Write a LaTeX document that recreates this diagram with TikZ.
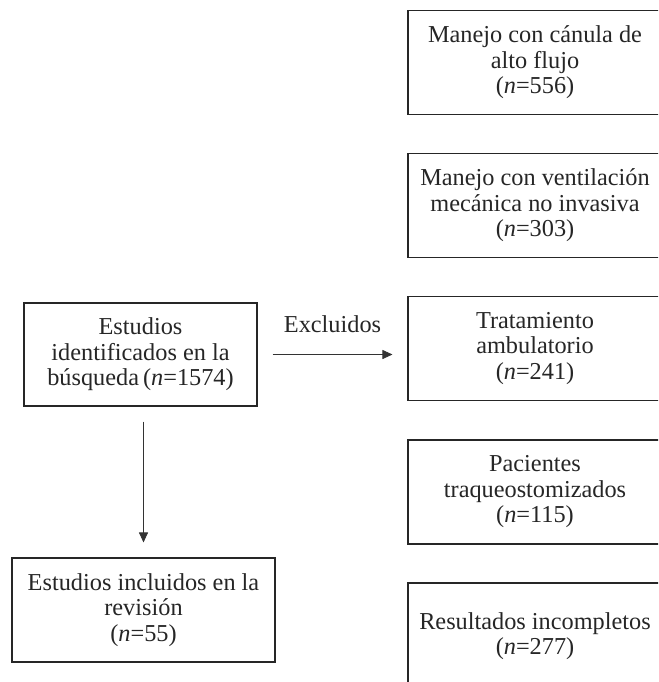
\documentclass[tikz,border=0pt]{standalone}
\usepackage{fontspec}
\setmainfont{Liberation Serif}
\usetikzlibrary{arrows.meta}
\begin{document}
\begin{tikzpicture}[x=1pt,y=-1pt,
  box/.style={draw=black!85, line width=1.1pt, align=center, inner sep=0pt,
    text=black!85, font=\fontsize{24.3}{25.5}\selectfont},
  rbox/.style={box, minimum width=254pt, minimum height=104pt},
  conn/.style={draw=black!80, line width=0.9pt, -{Triangle[length=10pt,width=9pt]}}]
\useasboundingbox (0,0) rectangle (658,682);
\clip (0,0) rectangle (658,682);
\fill[white] (0,0) rectangle (658,682);
\node[rbox] (r1) at (535,62.5) {Manejo con cánula de\\alto flujo\\(\textit{n}=556)};
\node[rbox] (r2) at (535,205.5) {Manejo con ventilación\\mecánica no invasiva\\(\textit{n}=303)};
\node[rbox] (r3) at (535,348.5) {Tratamiento\\ambulatorio\\(\textit{n}=241)};
\node[rbox] (r4) at (535,492) {Pacientes\\traqueostomizados\\(\textit{n}=115)};
\node[rbox, minimum height=106pt] (r5) at (535,636) {Resultados incompletos\\(\textit{n}=277)};
\node[box, minimum width=233pt, minimum height=103pt] (l1) at (140.5,354.5) {Estudios\\identificados en la\\búsqueda\,(\textit{n}=1574)};
\node[box, minimum width=263pt, minimum height=104pt] (l2) at (143.5,610) {Estudios incluidos en la\\revisión\\(\textit{n}=55)};
\draw[conn, shorten <=15pt, shorten >=15pt] (l1.east) -- (l1.east -| r3.west)
  node[midway, anchor=base, yshift=22pt, text=black!85, font=\fontsize{24.3}{25.5}\selectfont] (ex) {Excluidos};
\draw[conn, shorten <=15pt, shorten >=15pt] (l1.south -| l2.north) -- (l2.north);
\end{tikzpicture}
\end{document}
